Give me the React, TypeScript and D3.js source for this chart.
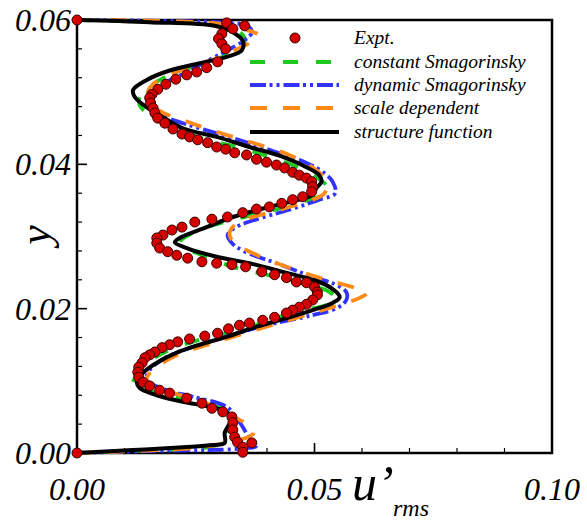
import React from 'react';
import * as d3 from 'd3';

// ---------- ticks ----------
const xMajorTicks = [0, 0.05, 0.1];
const xTickLabels = ['0.00', '0.05', '0.10'];
const xMinorTicks = [0.01, 0.02, 0.03, 0.04, 0.06, 0.07, 0.08, 0.09];
const yMajorTicks = [0, 0.02, 0.04, 0.06];
const yTickLabels = ['0.00', '0.02', '0.04', '0.06'];
const yMinorTicks = [0.004, 0.008, 0.012, 0.016, 0.024, 0.028, 0.032, 0.036, 0.044, 0.048, 0.052, 0.056];

const seriesNames = ['Expt.', 'constant Smagorinsky', 'dynamic Smagorinsky', 'scale dependent', 'structure function'];

// ---------- Expt. ----------
const exptU = [0, 0.0315, 0.0353, 0.0328, 0.0305, 0.0298, 0.0305, 0.0313, 0.0296, 0.0273, 0.0252, 0.0231, 0.0208, 0.0187, 0.0170, 0.0158, 0.0153, 0.0155, 0.0160, 0.0164, 0.0170, 0.0185, 0.0202, 0.0221, 0.0237, 0.0254, 0.0275, 0.0294, 0.0313, 0.0332, 0.0357, 0.0378, 0.0399, 0.0420, 0.0437, 0.0454, 0.0468, 0.0483, 0.0494, 0.0496, 0.0494, 0.0475, 0.0454, 0.0431, 0.0405, 0.0378, 0.0349, 0.0317, 0.0284, 0.0248, 0.0221, 0.0200, 0.0181, 0.0168, 0.0168, 0.0174, 0.0191, 0.0210, 0.0233, 0.0263, 0.0294, 0.0326, 0.0355, 0.0389, 0.0416, 0.0441, 0.0462, 0.0483, 0.0500, 0.0506, 0.0506, 0.0496, 0.0483, 0.0468, 0.0454, 0.0441, 0.0416, 0.0391, 0.0363, 0.0342, 0.0319, 0.0296, 0.0269, 0.0237, 0.0212, 0.0195, 0.0179, 0.0164, 0.0153, 0.0143, 0.0137, 0.0130, 0.0128, 0.0130, 0.0139, 0.0153, 0.0174, 0.0195, 0.0231, 0.0263, 0.0284, 0.0307, 0.0326, 0.0328, 0.0328, 0.0332, 0.0338, 0.0349, 0.0368, 0.0349, 0];
const exptY = [0.0600, 0.0596, 0.0592, 0.0588, 0.0581, 0.0574, 0.0567, 0.0560, 0.0542, 0.0534, 0.0528, 0.0524, 0.0518, 0.0511, 0.0504, 0.0497, 0.0492, 0.0485, 0.0478, 0.0471, 0.0464, 0.0457, 0.0449, 0.0442, 0.0438, 0.0434, 0.0430, 0.0424, 0.0421, 0.0416, 0.0413, 0.0407, 0.0403, 0.0399, 0.0395, 0.0389, 0.0385, 0.0381, 0.0376, 0.0369, 0.0362, 0.0355, 0.0351, 0.0346, 0.0341, 0.0338, 0.0333, 0.0327, 0.0324, 0.0320, 0.0313, 0.0309, 0.0302, 0.0298, 0.0291, 0.0284, 0.0279, 0.0274, 0.0270, 0.0265, 0.0263, 0.0261, 0.0258, 0.0251, 0.0247, 0.0243, 0.0237, 0.0236, 0.0230, 0.0223, 0.0219, 0.0212, 0.0206, 0.0202, 0.0198, 0.0194, 0.0188, 0.0184, 0.0180, 0.0177, 0.0172, 0.0166, 0.0162, 0.0158, 0.0154, 0.0150, 0.0146, 0.0140, 0.0136, 0.0132, 0.0125, 0.0119, 0.0112, 0.0105, 0.0098, 0.0093, 0.0087, 0.0083, 0.0076, 0.0069, 0.0062, 0.0057, 0.0050, 0.0042, 0.0032, 0.0022, 0.0015, 0.0008, 0.0014, 0.0001, 0];

// ---------- constant Smagorinsky ----------
const constU = [0, 0.0153, 0.0300, 0.0336, 0.0353, 0.0347, 0.0317, 0.0269, 0.0206, 0.0158, 0.0132, 0.0132, 0.0153, 0.0189, 0.0258, 0.0342, 0.0412, 0.0468, 0.0506, 0.0527, 0.0525, 0.0489, 0.0416, 0.0328, 0.0258, 0.0216, 0.0223, 0.0252, 0.0328, 0.0399, 0.0483, 0.0532, 0.0546, 0.0521, 0.0468, 0.0405, 0.0342, 0.0258, 0.0189, 0.0143, 0.0122, 0.0116, 0.0174, 0.0258, 0.0326, 0.0330, 0.0321, 0.0317, 0.0290, 0.0153, 0];
const constY = [0.0600, 0.0597, 0.0593, 0.0586, 0.0575, 0.0563, 0.0552, 0.0540, 0.0527, 0.0510, 0.0493, 0.0482, 0.0468, 0.0455, 0.0437, 0.0423, 0.0409, 0.0395, 0.0381, 0.0369, 0.0360, 0.0351, 0.0337, 0.0323, 0.0309, 0.0292, 0.0285, 0.0277, 0.0258, 0.0247, 0.0234, 0.0223, 0.0212, 0.0204, 0.0197, 0.0184, 0.0170, 0.0157, 0.0141, 0.0122, 0.0104, 0.0091, 0.0083, 0.0069, 0.0057, 0.0046, 0.0035, 0.0021, 0.0010, 0.0004, 0];

// ---------- dynamic Smagorinsky ----------
const dynU = [0, 0.0153, 0.0321, 0.0359, 0.0368, 0.0353, 0.0317, 0.0279, 0.0231, 0.0185, 0.0158, 0.0153, 0.0164, 0.0181, 0.0223, 0.0294, 0.0374, 0.0437, 0.0483, 0.0521, 0.0538, 0.0544, 0.0510, 0.0447, 0.0374, 0.0332, 0.0317, 0.0326, 0.0353, 0.0420, 0.0496, 0.0542, 0.0567, 0.0567, 0.0548, 0.0496, 0.0399, 0.0328, 0.0258, 0.0189, 0.0153, 0.0147, 0.0189, 0.0244, 0.0315, 0.0336, 0.0349, 0.0363, 0.0378, 0.0342, 0.0174, 0];
const dynY = [0.0600, 0.0599, 0.0596, 0.0592, 0.0583, 0.0572, 0.0558, 0.0545, 0.0528, 0.0513, 0.0500, 0.0489, 0.0475, 0.0467, 0.0457, 0.0443, 0.0427, 0.0413, 0.0402, 0.0388, 0.0376, 0.0360, 0.0351, 0.0337, 0.0323, 0.0312, 0.0302, 0.0291, 0.0279, 0.0263, 0.0244, 0.0234, 0.0223, 0.0212, 0.0201, 0.0191, 0.0177, 0.0164, 0.0150, 0.0133, 0.0115, 0.0101, 0.0087, 0.0078, 0.0064, 0.0049, 0.0036, 0.0021, 0.0010, 0.0006, 0.0003, 0];

// ---------- scale dependent ----------
const scaleU = [0, 0.0153, 0.0311, 0.0359, 0.0384, 0.0363, 0.0332, 0.0294, 0.0244, 0.0195, 0.0160, 0.0149, 0.0153, 0.0174, 0.0216, 0.0258, 0.0328, 0.0384, 0.0447, 0.0489, 0.0517, 0.0527, 0.0521, 0.0504, 0.0426, 0.0353, 0.0326, 0.0321, 0.0330, 0.0370, 0.0441, 0.0525, 0.0580, 0.0611, 0.0595, 0.0567, 0.0496, 0.0399, 0.0294, 0.0202, 0.0153, 0.0147, 0.0160, 0.0202, 0.0273, 0.0315, 0.0342, 0.0368, 0.0372, 0.0357, 0.0328, 0.0300, 0.0252, 0.0132, 0];
const scaleY = [0.0600, 0.0599, 0.0594, 0.0586, 0.0578, 0.0568, 0.0558, 0.0547, 0.0536, 0.0524, 0.0511, 0.0500, 0.0489, 0.0474, 0.0463, 0.0453, 0.0438, 0.0427, 0.0413, 0.0399, 0.0384, 0.0371, 0.0360, 0.0353, 0.0337, 0.0323, 0.0312, 0.0303, 0.0292, 0.0277, 0.0258, 0.0240, 0.0230, 0.0222, 0.0215, 0.0208, 0.0194, 0.0175, 0.0154, 0.0133, 0.0111, 0.0101, 0.0091, 0.0083, 0.0069, 0.0055, 0.0046, 0.0036, 0.0028, 0.0021, 0.0017, 0.0012, 0.0007, 0.0003, 0];

// ---------- structure function ----------
const structU = [0, 0.0153, 0.0290, 0.0328, 0.0349, 0.0347, 0.0315, 0.0258, 0.0195, 0.0147, 0.0118, 0.0122, 0.0147, 0.0174, 0.0223, 0.0294, 0.0363, 0.0426, 0.0483, 0.0510, 0.0515, 0.0504, 0.0496, 0.0468, 0.0399, 0.0328, 0.0273, 0.0216, 0.0206, 0.0231, 0.0294, 0.0363, 0.0433, 0.0496, 0.0532, 0.0553, 0.0538, 0.0496, 0.0447, 0.0378, 0.0315, 0.0258, 0.0210, 0.0168, 0.0139, 0.0126, 0.0132, 0.0168, 0.0223, 0.0279, 0.0315, 0.0326, 0.0317, 0.0311, 0.0311, 0.0286, 0.0223, 0.0118, 0];
const structY = [0.0600, 0.0597, 0.0592, 0.0583, 0.0571, 0.0558, 0.0549, 0.0540, 0.0530, 0.0517, 0.0503, 0.0493, 0.0479, 0.0468, 0.0450, 0.0438, 0.0424, 0.0412, 0.0396, 0.0385, 0.0376, 0.0367, 0.0358, 0.0351, 0.0340, 0.0327, 0.0313, 0.0298, 0.0292, 0.0284, 0.0272, 0.0263, 0.0251, 0.0240, 0.0230, 0.0216, 0.0208, 0.0198, 0.0188, 0.0175, 0.0161, 0.0150, 0.0139, 0.0125, 0.0111, 0.0098, 0.0090, 0.0080, 0.0071, 0.0064, 0.0057, 0.0046, 0.0036, 0.0028, 0.0014, 0.0011, 0.0008, 0.0004, 0];

const W = 587;
const H = 521;
const margin = { left: 77, right: 35, top: 20, bottom: 68 };

const FONT = "'Liberation Serif', 'Times New Roman', serif";

export default function App() {
  const x = d3.scaleLinear().domain([0, 0.1]).range([margin.left, W - margin.right]);
  const y = d3.scaleLinear().domain([0, 0.06]).range([H - margin.bottom, margin.top]);

  const zip = (us: number[], ys: number[]) => us.map((u, i) => [u, ys[i]] as [number, number]);
  const line = d3
    .line<[number, number]>()
    .x((d) => x(d[0]))
    .y((d) => y(d[1]))
    .curve(d3.curveCatmullRom.alpha(0.5));

  const lines = [
    { name: seriesNames[1], data: zip(constU, constY), color: '#1ec81e', dash: '15 18' },
    { name: seriesNames[2], data: zip(dynU, dynY), color: '#3333ff', dash: '16 3.5 3 4 3 4' },
    { name: seriesNames[3], data: zip(scaleU, scaleY), color: '#ff8a1a', dash: '17 16' },
    { name: seriesNames[4], data: zip(structU, structY), color: '#000000', dash: '' },
  ];
  const expt = zip(exptU, exptY);

  const x0 = x(0), x1 = x(0.1), y0 = y(0), y1 = y(0.06);

  const legendRows = [38, 62, 85, 108, 132];
  const lgX0 = 250, lgX1 = 339, lgText = 354;

  return (
    <svg width={W} height={H} style={{ position: 'absolute', left: 0, top: 0, background: '#fff' }}>
      <rect x={0} y={0} width={W} height={H} fill="#fff" />
      {/* ticks */}
      {xMinorTicks.map((t) => (
        <line key={'xm' + t} x1={x(t)} x2={x(t)} y1={y0} y2={y0 - 5} stroke="#000" strokeWidth={1.2} />
      ))}
      {xMajorTicks.map((t) => (
        <line key={'xM' + t} x1={x(t)} x2={x(t)} y1={y0} y2={y0 - 10} stroke="#000" strokeWidth={1.6} />
      ))}
      {yMinorTicks.map((t) => (
        <line key={'ym' + t} x1={x0} x2={x0 + 5} y1={y(t)} y2={y(t)} stroke="#000" strokeWidth={1.2} />
      ))}
      {yMajorTicks.map((t) => (
        <line key={'yM' + t} x1={x0} x2={x0 + 10} y1={y(t)} y2={y(t)} stroke="#000" strokeWidth={1.6} />
      ))}
      {/* frame */}
      <rect x={x0} y={y1} width={x1 - x0} height={y0 - y1} fill="none" stroke="#000" strokeWidth={2.5} />

      {/* lines */}
      {lines.map((s) => (
        <path
          key={s.name}
          d={line(s.data) || ''}
          fill="none"
          stroke={s.color}
          strokeWidth={s.color === '#000000' ? 4 : 3.8}
          strokeDasharray={s.dash || undefined}
          strokeLinejoin="round"
        />
      ))}
      {/* experimental points */}
      {expt.map((d, i) => (
        <circle key={'e' + i} cx={x(d[0])} cy={y(d[1])} r={5} fill="#d40000" stroke="#3a0000" strokeWidth={1} />
      ))}

      {/* tick labels */}
      {xMajorTicks.map((t, i) => (
        <text key={'xl' + t} x={x(t)} y={500} textAnchor="middle" fontFamily={FONT} fontStyle="italic" fontSize={32}>
          {xTickLabels[i]}
        </text>
      ))}
      {yMajorTicks.map((t, i) => (
        <text key={'yl' + t} x={71} y={y(t) + 11} textAnchor="end" fontFamily={FONT} fontStyle="italic" fontSize={32}>
          {yTickLabels[i]}
        </text>
      ))}

      {/* axis titles */}
      <text x={352} y={500} fontFamily={FONT} fontStyle="italic" fontSize={50}>
        u’
      </text>
      <text x={393} y={516} fontFamily={FONT} fontStyle="italic" fontSize={24}>
        rms
      </text>
      <text
        transform="translate(50,235) rotate(-90)"
        textAnchor="middle"
        fontFamily={FONT}
        fontStyle="italic"
        fontSize={44}
      >
        y
      </text>

      {/* legend */}
      <circle cx={295} cy={legendRows[0]} r={5} fill="#d40000" stroke="#3a0000" strokeWidth={1} />
      {lines.map((s, i) => (
        <line
          key={'lg' + s.name}
          x1={lgX0}
          x2={lgX1}
          y1={legendRows[i + 1]}
          y2={legendRows[i + 1]}
          stroke={s.color}
          strokeWidth={4}
          strokeDasharray={s.dash || undefined}
        />
      ))}
      {seriesNames.map((n, i) => (
        <text key={'lt' + n} x={lgText} y={legendRows[i] + 6} fontFamily={FONT} fontStyle="italic" fontSize={19.5}>
          {n}
        </text>
      ))}
    </svg>
  );
}
